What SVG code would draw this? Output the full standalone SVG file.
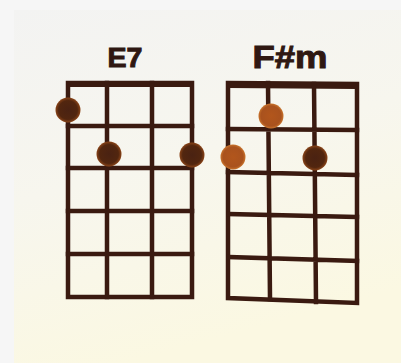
<svg xmlns="http://www.w3.org/2000/svg" width="401" height="363" viewBox="0 0 401 363">
<defs>
<linearGradient id="bg" x1="0" y1="0" x2="0.3" y2="1">
<stop offset="0" stop-color="#f3f3f2"/>
<stop offset="0.5" stop-color="#f7f6ee"/>
<stop offset="1" stop-color="#fbf8e2"/>
</linearGradient>
<radialGradient id="dark" cx="0.5" cy="0.5" r="0.5">
<stop offset="0" stop-color="#4a2212"/>
<stop offset="0.75" stop-color="#52260f"/>
<stop offset="1" stop-color="#8a4418"/>
</radialGradient>
<radialGradient id="orange" cx="0.5" cy="0.5" r="0.5">
<stop offset="0" stop-color="#b2561c"/>
<stop offset="0.8" stop-color="#a9521e"/>
<stop offset="1" stop-color="#c9742c"/>
</radialGradient>
</defs>
<style>
.grid{fill:none;stroke:#3a1a10;stroke-width:4.5;stroke-linecap:square}
.nut{fill:none;stroke:#3a1a10;stroke-width:6}
.title{font-family:"Liberation Sans",Arial,sans-serif;font-weight:bold;fill:#2f1812;stroke:#2f1812;stroke-width:1;text-anchor:middle}
</style>
<rect width="401" height="363" fill="#f6f6f6"/>
<rect x="14" y="10" width="387" height="353" fill="url(#bg)"/>
<g id="chord-E7">
<text class="title" x="125" y="67" font-size="28" textLength="35" lengthAdjust="spacingAndGlyphs">E7</text>
<rect class="grid" x="68" y="83" width="124" height="214"/>
<line class="nut" x1="68" y1="84" x2="192" y2="84"/>
<path class="grid" d="M107 83V297M152 83V297M68 126H192M68 168H192M68 211H192M68 254H192"/>
<circle cx="68" cy="110" r="12.5" fill="url(#dark)"/>
<circle cx="109" cy="154" r="12.5" fill="url(#dark)"/>
<circle cx="192" cy="155" r="12.5" fill="url(#dark)"/>
</g>
<g id="chord-Fsm">
<text class="title" x="290" y="68" font-size="32" textLength="75" lengthAdjust="spacingAndGlyphs">F#m</text>
<path class="grid" d="M228 83L357 84L357 303L228 298Z"/>
<line class="nut" x1="228" y1="85" x2="357" y2="86"/>
<path class="grid" d="M268 83L270 299M314 84L316 302M228 129L357 130M228 172L357 175M229 214L357 217M229 257L357 261"/>
<circle cx="271" cy="116" r="12.5" fill="url(#orange)"/>
<circle cx="233" cy="157" r="12.5" fill="url(#orange)"/>
<circle cx="315" cy="158" r="12.5" fill="url(#dark)"/>
</g>
</svg>
